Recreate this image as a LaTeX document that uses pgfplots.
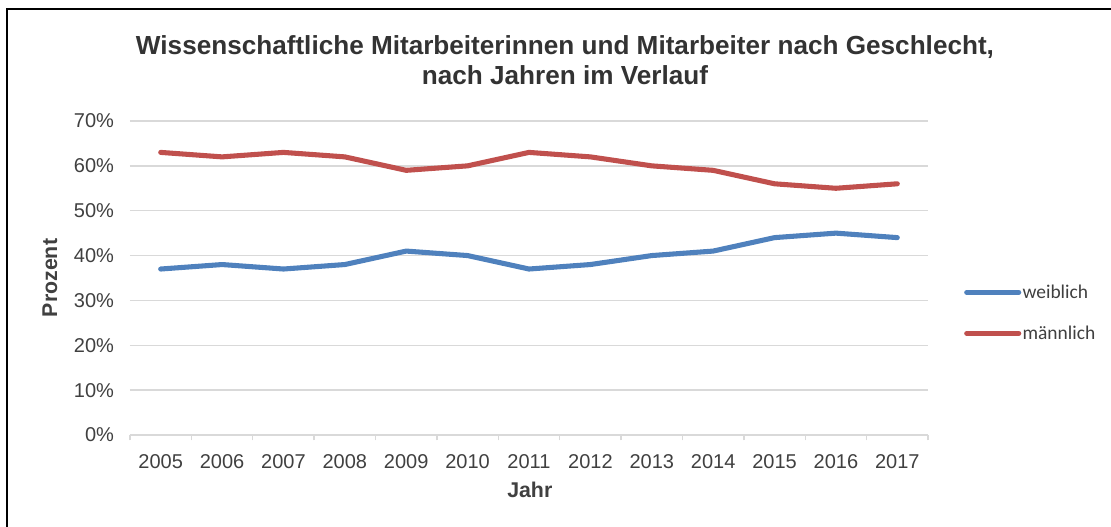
\documentclass[border=0pt]{standalone}
\usepackage{fontspec}
\setmainfont{Liberation Sans}
\newfontfamily\legfont{Carlito}
\usepackage{pgfplots}
\pgfplotsset{compat=1.18}
\definecolor{cblue}{HTML}{4F81BD}
\definecolor{cred}{HTML}{C0504D}
\definecolor{gridc}{HTML}{D9D9D9}
\definecolor{txt}{HTML}{404040}
\begin{document}
\begin{tikzpicture}
\path[use as bounding box] (0pt,0pt) rectangle (833.25pt,395.25pt);
\draw[line width=1.5pt] (4.9pt,0pt) -- (4.9pt,388.5pt) -- (833.25pt,388.5pt);
\node[align=center, text=black!80, font=\bfseries\fontsize{19.6}{22.5}\selectfont] at (423.75pt,350.25pt)
  {Wissenschaftliche Mitarbeiterinnen und Mitarbeiter nach Geschlecht,\\nach Jahren im Verlauf};
\begin{axis}[
  at={(97.5pt,69pt)}, anchor=south west, scale only axis,
  width=598.5pt, height=235.5pt,
  xmin=-0.5, xmax=12.5, ymin=0, ymax=70,
  axis lines=left, axis line style={-},
  y axis line style={draw=none},
  x axis line style={draw=gridc, line width=1pt},
  xtick={0,...,12},
  xticklabels={2005,2006,2007,2008,2009,2010,2011,2012,2013,2014,2015,2016,2017},
  minor xtick={-0.5,0.5,...,12.5},
  major tick length=0pt, minor tick length=4pt,
  tick align=outside,
  minor tick style={draw=gridc, line width=1pt},
  ytick={0,10,...,70},
  yticklabel={\pgfmathprintnumber[assume math mode=true]{\tick}\%},
  ymajorgrids, grid style={draw=gridc, line width=1pt},
  tick label style={font=\fontsize{15}{17}\selectfont, text=txt},
  xticklabel style={yshift=-11pt},
  yticklabel style={xshift=-8.5pt},
  xlabel={Jahr}, ylabel={Prozent},
  xlabel style={at={(axis description cs:0.501,-0.175)}, anchor=center, font=\bfseries\fontsize{16}{18}\selectfont, text=txt},
  ylabel style={at={(axis description cs:-0.1003,0.5)}, rotate=0, anchor=center, font=\bfseries\fontsize{16}{18}\selectfont, text=txt},
  legend style={at={(axis description cs:1.040,0.389)}, anchor=west, draw=none, fill=none,
    font=\legfont\fontsize{14.6}{17}\selectfont, text=txt, row sep=17pt,
    nodes={inner sep=1pt}},
  legend cell align=left,
  legend image code/.code={\draw[#1, line cap=round] (0pt,0pt) -- (39pt,0pt);},
  clip=false,
]
\addplot[cblue, line width=3.8pt, line join=round, line cap=round] coordinates {
  (0,37) (1,38) (2,37) (3,38) (4,41) (5,40) (6,37) (7,38) (8,40) (9,41) (10,44) (11,45) (12,44)};
\addlegendentry{weiblich}
\addplot[cred, line width=3.8pt, line join=round, line cap=round] coordinates {
  (0,63) (1,62) (2,63) (3,62) (4,59) (5,60) (6,63) (7,62) (8,60) (9,59) (10,56) (11,55) (12,56)};
\addlegendentry{männlich}
\end{axis}
\end{tikzpicture}
\end{document}
